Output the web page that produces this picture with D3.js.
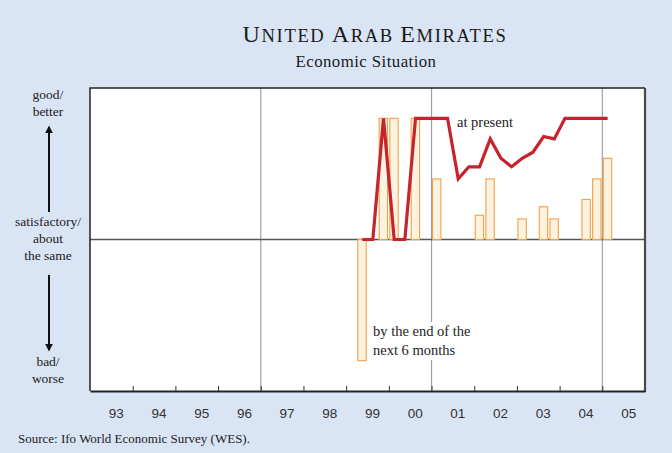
<!DOCTYPE html>
<html>
<head>
<meta charset="utf-8">
<script src="https://cdn.jsdelivr.net/npm/d3@7/dist/d3.min.js"></script>
<style>
  html, body { margin: 0; padding: 0; background: #d9e5f5; }
  svg { display: block; }
</style>
</head>
<body>
<svg id="chart" width="672" height="453"></svg>
<script>
// Quarterly survey periods (year, quarter)
const periods = [
  [1999,2],[1999,3],[1999,4],
  [2000,1],[2000,2],[2000,3],[2000,4],
  [2001,1],[2001,2],[2001,3],[2001,4],
  [2002,1],[2002,2],[2002,3],[2002,4],
  [2003,1],[2003,2],[2003,3],[2003,4],
  [2004,1],[2004,2],[2004,3],[2004,4],
  [2005,1]
];
// Present economic situation (balance)
const presentValues = [0, 0, 100, 0, 0, 100, 100, 100, 100, 50, 60, 60, 83, 67, 60, 67, 72, 85, 83, 100, 100, 100, 100, 100];
// Expectations for the next 6 months (balance); null = no bar
const expectedValues = [-100, null, 100, 100, null, 100, null, 50, null, null, null, 20, 50, null, null, 17, null, 27, 17, null, null, 33, 50, 67];
// Year labels on the x axis
const yearLabels = ["93","94","95","96","97","98","99","00","01","02","03","04","05"];
const yearStarts = d3.range(1993, 2006);
const gridYears = [1997, 2001, 2005];

const svg = d3.select("#chart");
const serif = "'Liberation Serif', 'Times New Roman', serif";
const sans = "'Liberation Sans', Arial, sans-serif";

const plot = { left: 90, right: 645, top: 88, bottom: 391 };
const x = d3.scaleLinear().domain([1993, 2006]).range([plot.left, plot.right]);
const y = d3.scaleLinear().domain([-125, 125]).range([plot.bottom, plot.top]);

// Title in small capitals, spread to its set width
const title = svg.append("text")
  .attr("x", 375).attr("y", 42)
  .attr("text-anchor", "middle")
  .attr("font-family", serif).attr("fill", "#1a1a1a");
[["U",24],["NITED ",18.6],["A",24],["RAB ",18.6],["E",24],["MIRATES",18.6]].forEach(([t, s]) => {
  title.append("tspan").attr("font-size", s).text(t);
});
const titleWidth = 265;
const titleChars = "UNITED ARAB EMIRATES".length;
const measured = title.node().getComputedTextLength();
title.attr("letter-spacing", Math.max(0, (titleWidth - measured) / titleChars));

svg.append("text")
  .attr("x", 366).attr("y", 66.5)
  .attr("text-anchor", "middle")
  .attr("font-family", serif).attr("font-size", 16.8).attr("fill", "#1a1a1a")
  .attr("letter-spacing", 0.45)
  .text("Economic Situation");

// Plot background
svg.append("rect")
  .attr("x", plot.left).attr("y", plot.top)
  .attr("width", plot.right - plot.left).attr("height", plot.bottom - plot.top)
  .attr("fill", "#fff");

// Vertical reference lines
svg.selectAll("line.grid").data(gridYears).join("line")
  .attr("class", "grid")
  .attr("x1", d => x(d)).attr("x2", d => x(d))
  .attr("y1", plot.top).attr("y2", plot.bottom)
  .attr("stroke", "#a0a0a0").attr("stroke-width", 1.2);

// Zero line
svg.append("line")
  .attr("x1", plot.left).attr("x2", plot.right)
  .attr("y1", y(0)).attr("y2", y(0))
  .attr("stroke", "#555").attr("stroke-width", 1.3);

// Expectation bars
const qw = (x(1994) - x(1993)) / 4;
const barData = periods.map((p, i) => ({ year: p[0], q: p[1], v: expectedValues[i] }))
  .filter(d => d.v !== null);
svg.selectAll("rect.bar").data(barData).join("rect")
  .attr("class", "bar")
  .attr("x", d => x(d.year + (d.q - 1) / 4) + 1)
  .attr("width", qw - 2.3)
  .attr("y", d => y(Math.max(0, d.v)))
  .attr("height", d => Math.abs(y(d.v) - y(0)))
  .attr("fill", "#fbf3df")
  .attr("stroke", "#f4a043").attr("stroke-width", 1.1);

// Label for the expectations (white backing hides the grid line)
const expLabel = svg.append("g");
expLabel.append("rect")
  .attr("x", 371).attr("y", 322).attr("width", 104).attr("height", 38)
  .attr("fill", "#fff");
expLabel.append("text")
  .attr("x", 373).attr("y", 336)
  .attr("font-family", serif).attr("font-size", 14.5).attr("fill", "#222")
  .selectAll("tspan").data(["by the end of the", "next 6 months"]).join("tspan")
  .attr("x", 373).attr("dy", (d, i) => i ? 18.5 : 0)
  .text(d => d);

// Present situation line
const line = d3.line()
  .x((d, i) => x(periods[i][0] + (periods[i][1] - 0.5) / 4))
  .y(d => y(d));
svg.append("path")
  .attr("d", line(presentValues))
  .attr("fill", "none")
  .attr("stroke", "#c8232c").attr("stroke-width", 3.2)
  .attr("stroke-linejoin", "miter");
svg.append("text")
  .attr("x", 457).attr("y", 127)
  .attr("font-family", serif).attr("font-size", 14.5).attr("fill", "#222")
  .text("at present");

// Plot frame
svg.append("path")
  .attr("d", `M${plot.left},${plot.bottom}V${plot.top}H${plot.right}`)
  .attr("fill", "none").attr("stroke", "#222").attr("stroke-width", 1.5);
svg.append("line")
  .attr("x1", plot.right).attr("x2", plot.right)
  .attr("y1", plot.top).attr("y2", plot.bottom + 1)
  .attr("stroke", "#4a4a4a").attr("stroke-width", 2.2);

// X axis with inward ticks at year boundaries
const xAxis = d3.axisBottom(x)
  .tickValues(yearStarts.slice(1))
  .tickSizeInner(-5).tickSizeOuter(0)
  .tickFormat("");
const ax = svg.append("g").attr("transform", `translate(0,${plot.bottom})`).call(xAxis);
ax.select(".domain").attr("stroke", "#222").attr("stroke-width", 1.8);
ax.selectAll(".tick line").attr("stroke", "#333").attr("stroke-width", 1);

svg.selectAll("text.year").data(yearStarts).join("text")
  .attr("class", "year")
  .attr("x", (d, i) => x(d + 0.5) + 5)
  .attr("y", 418)
  .attr("text-anchor", "middle")
  .attr("font-family", sans).attr("font-size", 13.5).attr("fill", "#333")
  .text((d, i) => yearLabels[i]);

// Left-hand scale description
const leftText = [
  ["good/", 99], ["better", 116],
  ["satisfactory/", 226], ["about", 243], ["the same", 260],
  ["bad/", 366], ["worse", 383]
];
svg.selectAll("text.side").data(leftText).join("text")
  .attr("class", "side")
  .attr("x", 48).attr("y", d => d[1])
  .attr("text-anchor", "middle")
  .attr("font-family", serif).attr("font-size", 13.5).attr("fill", "#222")
  .text(d => d[0]);

const defs = svg.append("defs");
defs.append("marker")
  .attr("id", "head").attr("viewBox", "0 0 10 10")
  .attr("refX", 8).attr("refY", 5)
  .attr("markerWidth", 4).attr("markerHeight", 4)
  .attr("markerUnits", "strokeWidth")
  .attr("orient", "auto")
  .append("path").attr("d", "M0,0L10,5L0,10Z").attr("fill", "#111");
svg.append("line")
  .attr("x1", 49).attr("x2", 49).attr("y1", 212).attr("y2", 127)
  .attr("stroke", "#111").attr("stroke-width", 2).attr("marker-end", "url(#head)");
svg.append("line")
  .attr("x1", 49).attr("x2", 49).attr("y1", 275).attr("y2", 350)
  .attr("stroke", "#111").attr("stroke-width", 2).attr("marker-end", "url(#head)");

// Source
svg.append("text")
  .attr("x", 18).attr("y", 443)
  .attr("font-family", serif).attr("font-size", 13).attr("fill", "#222")
  .text("Source: Ifo World Economic Survey (WES).");
</script>
</body>
</html>
